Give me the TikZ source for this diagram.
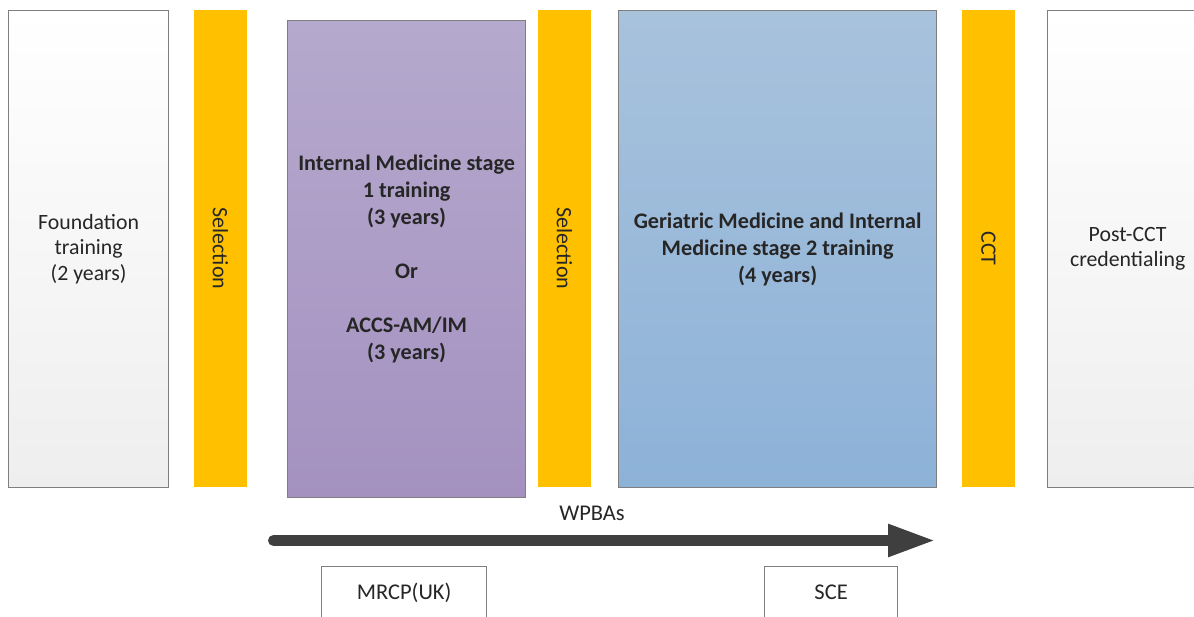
\documentclass[tikz,border=0pt]{standalone}
\usepackage{fontspec}
\setmainfont{Carlito}
\usetikzlibrary{arrows.meta}

\definecolor{barfill}{HTML}{FFC000}
\definecolor{boxline}{HTML}{7F7F7F}
\definecolor{txt}{HTML}{262626}
\definecolor{greytop}{HTML}{FFFFFF}
\definecolor{greybot}{HTML}{EEEEEE}
\definecolor{purpletop}{HTML}{B5A9CD}
\definecolor{purplebot}{HTML}{A491C0}
\definecolor{bluetop}{HTML}{A8C2DC}
\definecolor{bluebot}{HTML}{8DB2D8}
\definecolor{arrowcol}{HTML}{3F3F3F}

\tikzset{
  stagebox/.style={draw=boxline, line width=1.3pt, anchor=north west,
    align=center, inner sep=0pt, text=txt,
    font=\fontsize{21.8}{25.2}\selectfont},
  plainbox/.style={stagebox, top color=greytop, bottom color=greybot},
  purplebox/.style={stagebox, top color=purpletop, bottom color=purplebot,
    font=\fontsize{22.2}{27}\selectfont\bfseries},
  bluebox/.style={stagebox, top color=bluetop, bottom color=bluebot,
    font=\fontsize{22.2}{27}\selectfont\bfseries},
  gate/.style={fill=barfill, rotate=-90, minimum width=477pt,
    minimum height=53pt, inner sep=0pt, text=txt,
    font=\fontsize{22}{24}\selectfont},
  exambox/.style={draw=boxline, line width=1.3pt, fill=white, anchor=north west,
    minimum height=52pt, inner sep=0pt, text=txt,
    font=\fontsize{22.5}{24}\selectfont},
  progress/.style={draw=arrowcol, line width=11pt, line cap=round,
    -{Triangle[length=48pt,width=30pt]}},
}

\begin{document}
\begin{tikzpicture}[x=1pt,y=-1pt]
  \useasboundingbox (0,0) rectangle (1194,617);
  \clip (0,0) rectangle (1194,617);

  % training stages
  \node[plainbox, minimum width=160pt, minimum height=477pt] (found) at (8,10)
    {Foundation\\training\\(2 years)};
  \node[purplebox, minimum width=238pt, minimum height=477pt] (imt) at (287,20)
    {Internal Medicine stage\\1 training\\(3 years)\\[27pt]Or\\[27pt]ACCS-AM/IM\\(3 years)};
  \node[bluebox, minimum width=318pt, minimum height=477pt] (geri) at (618,10)
    {Geriatric Medicine and Internal\\Medicine stage 2 training\\(4 years)};
  \node[plainbox, minimum width=160pt, minimum height=477pt] (post) at (1047,10)
    {Post-CCT\\credentialing};

  % gateways between stages
  \node[gate] (sel1) at (220.5,248.5) {Selection};
  \node[gate] (sel2) at (564.5,248.5) {Selection};
  \node[gate] (cct)  at (988.5,248.5) {CCT};

  % workplace-based assessments run through training
  \coordinate (wpStart) at (273.5,540.5);
  \coordinate (wpEnd) at (936,540.5);
  \draw[progress] (wpStart) -- (wpEnd);
  \node[text=txt, font=\fontsize{22.5}{24}\selectfont] (wpba) at (592,513) {WPBAs};

  % examinations
  \node[exambox, minimum width=165pt] (mrcp) at (321,566) {MRCP(UK)};
  \node[exambox, minimum width=133pt] (sce) at (764,566) {SCE};
\end{tikzpicture}
\end{document}
